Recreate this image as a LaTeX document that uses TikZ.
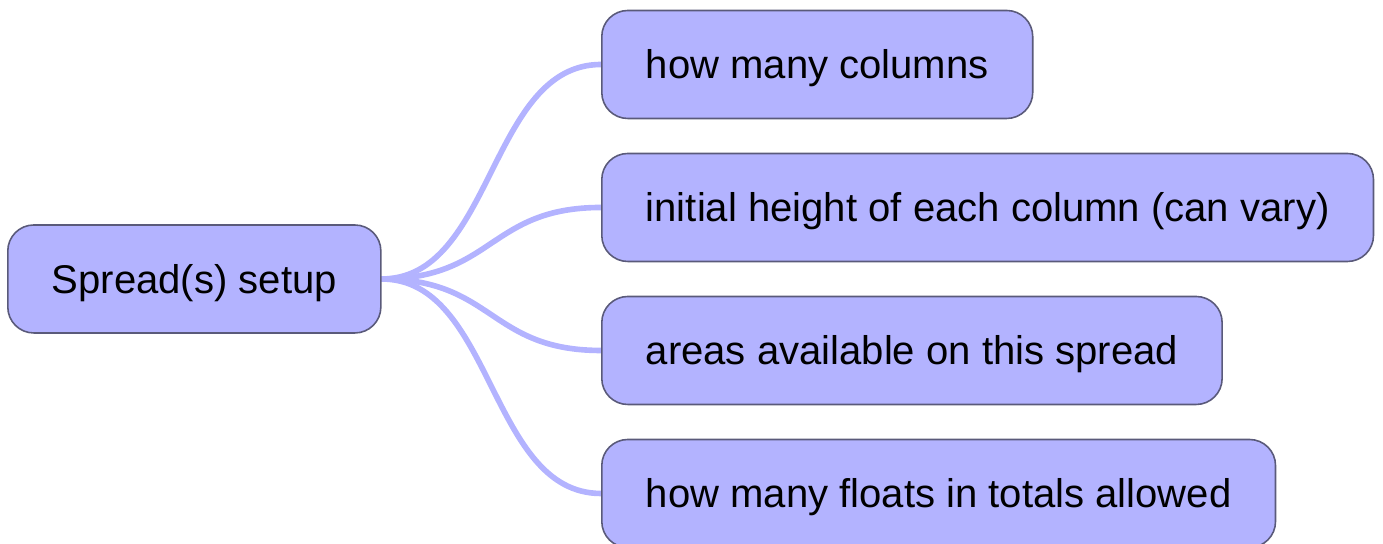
\documentclass[tikz,border=0pt]{standalone}
\usepackage{fontspec}
\setmainfont{Liberation Sans}
\usetikzlibrary{positioning,calc,backgrounds}
\definecolor{boxfill}{HTML}{B3B3FF}
\definecolor{boxline}{HTML}{5A5A7A}
\definecolor{branch}{HTML}{B3B3FF}
\definecolor{ink}{HTML}{000000}
\tikzset{
  % ---- topic boxes -----------------------------------------------
  topic/.style      = {rectangle, rounded corners=0.26cm, draw=boxline,
                       line width=.45pt, fill=boxfill, text=ink,
                       inner xsep=0.44cm, inner ysep=0pt,
                       text height=0.37cm, text depth=0.08cm,
                       minimum height=1.08cm, anchor=west,
                       font=\fontsize{11.4}{13.7}\selectfont},
  % ---- connectors ------------------------------------------------
  link/.style       = {draw=branch, line width=1.6pt, line cap=round},
}
\begin{document}
\begin{tikzpicture}
  \useasboundingbox (0,0) rectangle (13.83,5.44);
  \node[topic] (root) at (0.07,2.65) {Spread(s) setup};
  \node[topic] (cols) at (6.01,4.795) {how many columns};
  \node[topic] (height) at (6.01,3.365) {initial height of each column (can vary)};
  \node[topic] (areas) at (6.01,1.935) {areas available on this spread};
  \node[topic] (floats) at (6.01,0.505) {how many floats in totals allowed};
  \begin{scope}[on background layer]
    \foreach \c in {cols,height,areas,floats}
      \draw[link] (root.east) .. controls +(1.12,0) and ($(\c.west)+(-1.12,0)$) .. (\c.west);
  \end{scope}
\end{tikzpicture}
\end{document}
